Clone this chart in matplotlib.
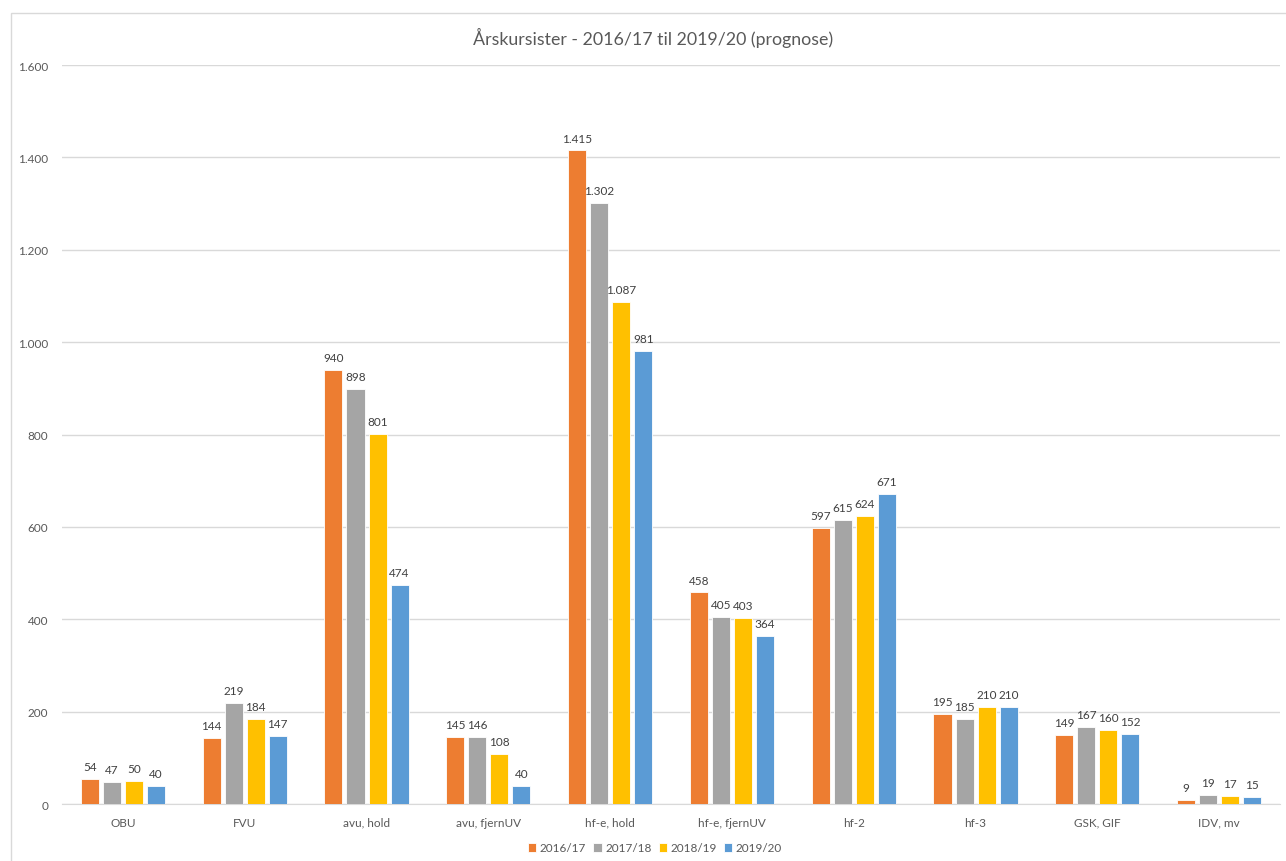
import matplotlib.pyplot as plt
from matplotlib.patches import Rectangle
import numpy as np

plt.rcParams['font.family'] = ['Lato', 'DejaVu Sans']

categories = ["OBU", "FVU", "avu, hold", "avu, fjernUV", "hf-e, hold",
              "hf-e, fjernUV", "hf-2", "hf-3", "GSK, GIF", "IDV, mv"]
years = ["2016/17", "2017/18", "2018/19", "2019/20"]
v_1617 = [54, 144, 940, 145, 1415, 458, 597, 195, 149, 9]
v_1718 = [47, 219, 898, 146, 1302, 405, 615, 185, 167, 19]
v_1819 = [50, 184, 801, 108, 1087, 403, 624, 210, 160, 17]
v_1920 = [40, 147, 474, 40, 981, 364, 671, 210, 152, 15]
series = [v_1617, v_1718, v_1819, v_1920]
colors = ["#ED7D31", "#A5A5A5", "#FFC000", "#5B9BD5"]

TEXT = "#595959"


def fmt(v):
    # danish thousands separator
    return f"{v:,}".replace(",", ".")


fig = plt.figure(figsize=(12.86, 8.62), dpi=100)
ax = fig.add_axes([0.0482, 0.0661, 0.9472, 0.8573])

# chart frame
fig.patches.append(Rectangle((11 / 1286, -0.1), 1.2, (862 - 14) / 862 + 0.1,
                             transform=fig.transFigure, fill=False,
                             edgecolor="#D9D9D9", linewidth=1))

x = np.arange(len(categories))
width = 0.148
step = 0.181
for k, (vals, col, yr) in enumerate(zip(series, colors, years)):
    pos = x + (k - 1.5) * step
    bars = ax.bar(pos, vals, width, color=col, edgecolor="white",
                  linewidth=0.6, label=yr, zorder=3)
    for b, v in zip(bars, vals):
        ax.annotate(fmt(v), (b.get_x() + b.get_width() / 2, v),
                    xytext=(0, 5), textcoords="offset points",
                    ha="center", va="bottom", fontsize=8.5, color="#404040")

ax.set_xlim(-0.5, len(categories) - 0.5)
ax.set_ylim(0, 1600)
ax.set_yticks(range(0, 1601, 200))
ax.set_yticklabels([fmt(t) for t in range(0, 1601, 200)])
ax.set_xticks(x)
ax.set_xticklabels(categories)
ax.tick_params(axis="both", length=0, labelsize=8.5, labelcolor=TEXT)
ax.tick_params(axis="y", pad=10)
ax.tick_params(axis="x", pad=9)
ax.yaxis.grid(True, color="#D9D9D9", linewidth=1, zorder=0)
for s in ["top", "right", "left"]:
    ax.spines[s].set_visible(False)
ax.spines["bottom"].set_color("#D9D9D9")

fig.text(653 / 1286, (862 - 38) / 862, "Årskursister - 2016/17 til 2019/20 (prognose)",
         ha="center", va="center", fontsize=12.8, color=TEXT)

fig.legend(loc="center", bbox_to_anchor=(655 / 1286, (862 - 849) / 862), ncol=4,
           frameon=False, fontsize=8.5, labelcolor=TEXT, handlelength=0.7,
           handleheight=0.7, handletextpad=0.3, columnspacing=0.6)

fig.savefig("out.png", dpi=100, facecolor="white")
